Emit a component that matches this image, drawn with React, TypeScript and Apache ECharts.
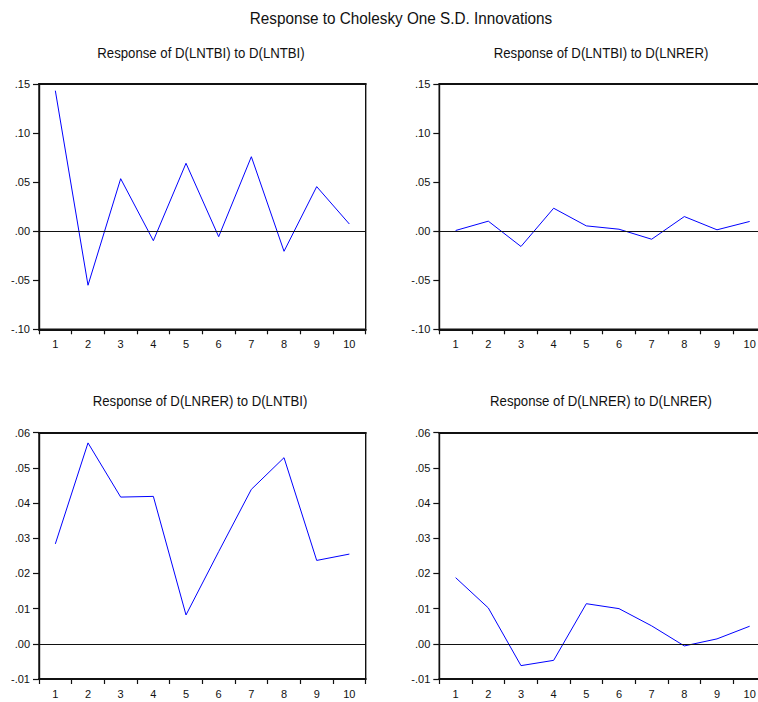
import React, { useEffect, useRef } from "react";
import * as echarts from "echarts";

const periods = ["1", "2", "3", "4", "5", "6", "7", "8", "9", "10"];

const lntbiToLntbi = [0.1432, -0.0551, 0.0535, -0.0097, 0.0692, -0.0056, 0.0759, -0.0205, 0.0454, 0.0073];
const lntbiToLnrer = [0.0007, 0.0102, -0.0156, 0.0234, 0.0054, 0.002, -0.0082, 0.0149, 0.0014, 0.0099];
const lnrerToLntbi = [0.0284, 0.0571, 0.0417, 0.0419, 0.0082, 0.0262, 0.0439, 0.0529, 0.0237, 0.0255];
const lnrerToLnrer = [0.0188, 0.0102, -0.0062, -0.0047, 0.0114, 0.01, 0.0051, -0.0006, 0.0014, 0.005];

const topAxisRange = [-0.1, 0.15, 0.05];
const bottomAxisRange = [-0.01, 0.06, 0.01];

const mainTitle = "Response to Cholesky One S.D. Innovations";
const panelTitles = [
  "Response of D(LNTBI) to D(LNTBI)",
  "Response of D(LNTBI) to D(LNRER)",
  "Response of D(LNRER) to D(LNTBI)",
  "Response of D(LNRER) to D(LNRER)",
];

const fmt = (v: number) => {
  const s = Math.abs(v).toFixed(2).replace(/^0/, "");
  return (v < -1e-9 ? "-" : "") + s;
};

export default function App() {
  const ref = useRef<HTMLDivElement>(null);
  useEffect(() => {
    if (!ref.current) return;
    const chart = echarts.init(ref.current, null, { renderer: "svg" });
    const grids = [
      { left: 39, top: 84, width: 326.7, height: 245.3 },
      { left: 439.3, top: 84, width: 326.7, height: 245.3 },
      { left: 39, top: 432.7, width: 326.7, height: 246.3 },
      { left: 439.3, top: 432.7, width: 326.7, height: 246.3 },
    ];
    const datas = [lntbiToLntbi, lntbiToLnrer, lnrerToLntbi, lnrerToLnrer];
    const ranges = [topAxisRange, topAxisRange, bottomAxisRange, bottomAxisRange];
    const labelStyle = { color: "#111", fontSize: 11, fontFamily: "Liberation Sans, Arial, sans-serif" };
    const titlePos = [
      [201, 53],
      [601, 53],
      [200, 401],
      [601, 401],
    ];
    const bottomAxes = grids.map((_, i) => ({
      type: "category",
      gridIndex: i,
      data: periods,
      boundaryGap: true,
      position: "bottom",
      axisLine: { show: true, onZero: false, lineStyle: { color: "#111", width: 2 } },
      axisTick: { show: true, inside: false, length: 5, lineStyle: { color: "#111", width: 1.2 } },
      axisLabel: { ...labelStyle, interval: 0, margin: 9 },
      splitLine: { show: false },
    }));
    const topAxes = grids.map((_, i) => ({
      type: "category",
      gridIndex: i,
      data: periods,
      boundaryGap: true,
      position: "top",
      axisLine: { show: true, onZero: false, lineStyle: { color: "#111", width: 2 } },
      axisTick: { show: false },
      axisLabel: { show: false },
      splitLine: { show: false },
    }));
    const option: any = {
      animation: false,
      backgroundColor: "#fff",
      grid: grids.map((g) => ({ ...g, show: true, borderColor: "#111", borderWidth: 1.4, backgroundColor: "transparent" })),
      xAxis: [...bottomAxes, ...topAxes],
      yAxis: grids.map((_, i) => ({
        type: "value",
        gridIndex: i,
        min: ranges[i][0],
        max: ranges[i][1],
        interval: ranges[i][2],
        axisLine: { show: true, onZero: false, lineStyle: { color: "#111", width: 1.4 } },
        axisTick: { show: true, inside: false, length: 6, lineStyle: { color: "#111", width: 1.2 } },
        axisLabel: { ...labelStyle, margin: 9, formatter: fmt },
        splitLine: { show: false },
      })),
      series: datas.map((d, i) => ({
        type: "line",
        xAxisIndex: i,
        yAxisIndex: i,
        data: d,
        symbol: "none",
        lineStyle: { color: "#0000ff", width: 1 },
        markLine: {
          silent: true,
          symbol: "none",
          label: { show: false },
          lineStyle: { color: "#111", width: 1.2, type: "solid" },
          data: [{ yAxis: 0 }],
        },
      })),
      graphic: [
        {
          type: "text",
          x: 401,
          y: 18,
          scaleX: 0.9,
          style: {
            text: mainTitle,
            fontSize: 17,
            fontFamily: "Liberation Sans, Arial, sans-serif",
            fill: "#111",
            textAlign: "center",
            textVerticalAlign: "middle",
          },
        },
        ...panelTitles.map((t, i) => ({
          type: "text",
          x: titlePos[i][0],
          y: titlePos[i][1],
          scaleX: 0.88,
          style: {
            text: t,
            fontSize: 15,
            fontFamily: "Liberation Sans, Arial, sans-serif",
            fill: "#111",
            textAlign: "center",
            textVerticalAlign: "middle",
          },
        })),
      ],
    };
    chart.setOption(option);
    return () => chart.dispose();
  }, []);
  return (
    <div style={{ position: "absolute", left: 0, top: 0, width: 758, height: 702, overflow: "hidden" }}>
      <div ref={ref} style={{ width: 780, height: 702 }} />
    </div>
  );
}
